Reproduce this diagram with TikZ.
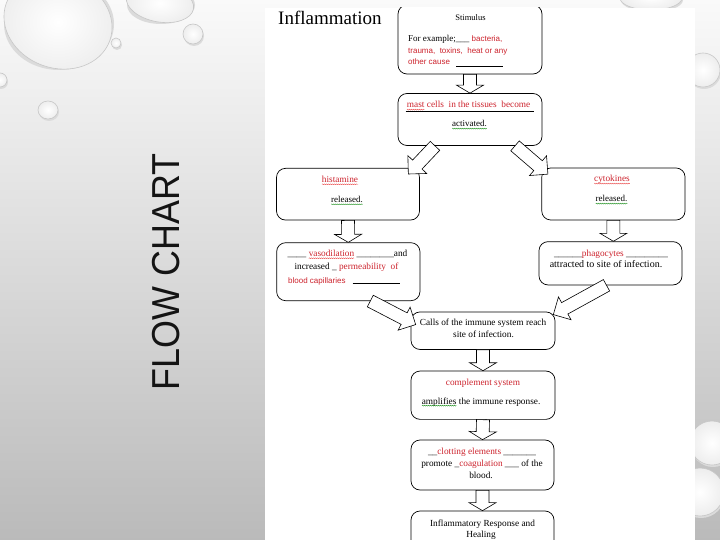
\documentclass[tikz,border=0pt]{standalone}
\usepackage{fontspec}
\setmainfont{Liberation Serif}
\newfontfamily\arialf{Liberation Sans}
\usetikzlibrary{calc,decorations.pathmorphing}
\definecolor{wordred}{RGB}{205,35,45}
\definecolor{sqgreen}{RGB}{20,140,20}
\definecolor{sqred}{RGB}{235,70,70}
\newcommand\rs[1]{{\arialf\fontsize{8}{9}\selectfont\color{wordred}#1}}
\newcommand\rd[1]{{\color{wordred}#1}}
\newcommand\wav[2]{\tikz[x=1pt,y=1pt,baseline=(wv.base)]{\node[inner sep=0pt,outer sep=0pt,anchor=base](wv) at (0,0){#2};\draw[#1,line width=0.35pt,decorate,decoration={snake,amplitude=0.45pt,segment length=2pt}]([yshift=-1.6pt]wv.base west)--([yshift=-1.6pt]wv.base east);}}
\newcommand\blockarrow[5]{%
  \coordinate (hb) at ($(#2)!#5!(#1)$);
  \draw[barrow] ($(#1)!#3!90:(#2)$) -- ($(hb)!#3!-90:(#1)$) -- ($(hb)!#4!-90:(#1)$) -- (#2) -- ($(hb)!#4!90:(#1)$) -- ($(hb)!#3!90:(#1)$) -- ($(#1)!#3!-90:(#2)$) -- cycle;}
\newcommand\waterdrop[4]{%
  \fill[black!14] ($(#1)+(1,2)$) ellipse ({#2} and {#3});
  \shade[inner color=white, outer color=black!7, rotate around={#4:(#1)}] (#1) ellipse ({#2} and {#3});
  \draw[black!22, line width=0.6pt, rotate around={#4:(#1)}] (#1) ellipse ({#2} and {#3});}
\tikzset{
  box/.style={draw=black, fill=white, rounded corners=9pt, line width=0.7pt, inner sep=0pt},
  barrow/.style={draw=black, fill=white, line width=0.6pt, line join=miter},
  txt/.style={inner sep=0pt, anchor=base, font=\fontsize{9.3}{11}\selectfont},
}
\begin{document}
\begin{tikzpicture}[x=1pt,y=-1pt]
\useasboundingbox (0,0) rectangle (720,540);
% background
\shade[top color=black!2, bottom color=black!27] (0,0) rectangle (720,540);
% water drops
\waterdrop{58,22}{55}{46}{-20}
\waterdrop{160,3}{34}{19}{-10}
\waterdrop{193,34}{10}{10}{0}
\waterdrop{116,43}{5}{5}{0}
\waterdrop{48,110}{10}{9}{0}
\waterdrop{0,80}{7}{7}{0}
\waterdrop{651,-2}{31}{12}{0}
\waterdrop{703,70}{17}{17}{0}
\waterdrop{712,443}{22}{22}{0}
\waterdrop{700,492}{24}{24}{0}
% page
\fill[white] (265,8) rectangle (695,540);
% title
\node[rotate=90, inner sep=0pt, font=\arialf\fontsize{39}{40}\selectfont, text=black!92] (fc) at (166,272) {\scalebox{0.92}[1]{FLOW CHART}};
\begin{scope}
\clip (265,8) rectangle (695,540);
\node[txt, anchor=base west, font=\fontsize{19}{22}\selectfont] (title) at (278,25) {Inflammation};
% boxes
\node[box, minimum width=144pt, minimum height=69pt] (stim) at (470,39.5) {};
\node[box, minimum width=144pt, minimum height=52pt] (mast) at (470,119.5) {};
\node[box, minimum width=143pt, minimum height=51.7pt] (hist) at (348,194.2) {};
\node[box, minimum width=143.3pt, minimum height=52pt] (cyto) at (613.4,194) {};
\node[box, minimum width=143.3pt, minimum height=58pt] (vaso) at (348.3,271.7) {};
\node[box, minimum width=143pt, minimum height=43.3pt] (phag) at (610.5,263.3) {};
\node[box, minimum width=144pt, minimum height=37.5pt] (calls) at (483,330.7) {};
\node[box, minimum width=144pt, minimum height=48.3pt] (comp) at (483,395.2) {};
\node[box, minimum width=143pt, minimum height=50pt] (clot) at (482.5,465) {};
\node[box, minimum width=143pt, minimum height=48pt] (infl) at (482.5,535) {};
% arrow end points
\coordinate (a2t) at ($(mast.south)+(-35,0)$);
\coordinate (a2h) at ($(hist.north east)+(-11.5,6)$);
\coordinate (a3t) at ($(mast.south)+(45,0)$);
\coordinate (a3h) at ($(cyto.north west)+(6.5,6.5)$);
\coordinate (a6t) at ($(vaso.south)+(22,0)$);
\coordinate (a6h) at ($(calls.north west)+(5,13)$);
\coordinate (a7t) at ($(phag.south)+(-4,0)$);
\coordinate (a7h) at ($(calls.north east)+(-2,3)$);
\coordinate (a5h) at (cyto.south |- phag.north);
% block arrows
\blockarrow{stim.south}{mast.north}{6.5pt}{13.5pt}{8pt}
\blockarrow{a2t}{a2h}{6.5pt}{13pt}{13pt}
\blockarrow{a3t}{a3h}{6.5pt}{13pt}{13pt}
\blockarrow{hist.south}{vaso.north}{6.5pt}{13.5pt}{8pt}
\blockarrow{cyto.south}{a5h}{6.5pt}{13.5pt}{8pt}
\blockarrow{a6t}{a6h}{6.5pt}{13pt}{13pt}
\blockarrow{a7t}{a7h}{6.5pt}{13pt}{13pt}
\blockarrow{calls.south}{comp.north}{6.5pt}{13.5pt}{8pt}
\blockarrow{comp.south}{clot.north}{6.5pt}{13.5pt}{8pt}
\blockarrow{clot.south}{infl.north}{6.5pt}{13.5pt}{8pt}
% texts
\node[txt, font=\fontsize{8.5}{10}\selectfont] (stimT) at (470.5,21) {Stimulus};
\node[txt, anchor=base west, font=\fontsize{9}{10}\selectfont] (stim1) at (408,42) {For example;\_\_\_\ \rs{bacteria,}};
\node[txt, anchor=base west] (stim2) at (408,53.5) {\rs{trauma,\ \ toxins,\ \ heat or any}};
\node[txt, anchor=base west] (stim3) at (408,65) {\rs{other cause}\hspace{6pt}\rule[-1.5pt]{47pt}{0.6pt}};
\node[txt] (mast1) at (468.5,108) {\wav{sqred}{\color{wordred}mast} \rd{cells\ \ in the tissues\ \ become}};
\draw[line width=0.7pt] ($(mast.north west)+(8,18.5)$) -- ($(mast.north east)+(-8,18.5)$);
\node[txt, font=\fontsize{9}{10}\selectfont] (mast2) at (469.5,127) {\wav{sqgreen}{activated.}};
\node[txt] (hist1) at (340,182.7) {\wav{sqred}{\color{wordred}histamine}};
\node[txt, font=\fontsize{9}{10}\selectfont] (hist2) at (347,202.7) {\wav{sqgreen}{released.}};
\node[txt] (cyto1) at (612,182) {\wav{sqred}{\color{wordred}cytokines}};
\node[txt, font=\fontsize{9}{10}\selectfont] (cyto2) at (611.5,202) {\wav{sqgreen}{released.}};
\node[txt] (vaso1) at (347.5,256.7) {\_\_\_\_ \wav{sqred}{\color{wordred}vasodilation} \_\_\_\_\_\_\_\_and};
\node[txt] (vaso2) at (346.5,269) {increased \_ \rd{permeability\ \ of}};
\node[txt, anchor=base west] (vaso3) at (288,283) {\rs{blood capillaries}\hspace{7pt}\rule[-1pt]{47pt}{0.6pt}};
\node[txt] (phag1) at (611,256) {\_\_\_\_\_\_\rd{phagocytes} \_\_\_\_\_\_\_\_\_};
\node[txt, font=\fontsize{10}{11}\selectfont] (phag2) at (606,267.3) {attracted to site of infection.};
\node[txt] (calls1) at (483,325) {Calls of the immune system reach};
\node[txt] (calls2) at (483.5,337) {site of infection.};
\node[txt, text=wordred] (comp1) at (483,385) {complement system};
\node[txt] (comp2) at (481,404) {\wav{sqgreen}{amplifies} the immune response.};
\node[txt] (clot1) at (482,454) {\_\_\rd{clotting elements} \_\_\_\_\_\_\_};
\node[txt] (clot2) at (482,466) {promote \_\rd{coagulation} \_\_\_ of the};
\node[txt] (clot3) at (481,478) {blood.};
\node[txt] (infl1) at (482.5,526) {Inflammatory Response and};
\node[txt] (infl2) at (481,537.5) {Healing};
\end{scope}
\end{tikzpicture}
\end{document}
